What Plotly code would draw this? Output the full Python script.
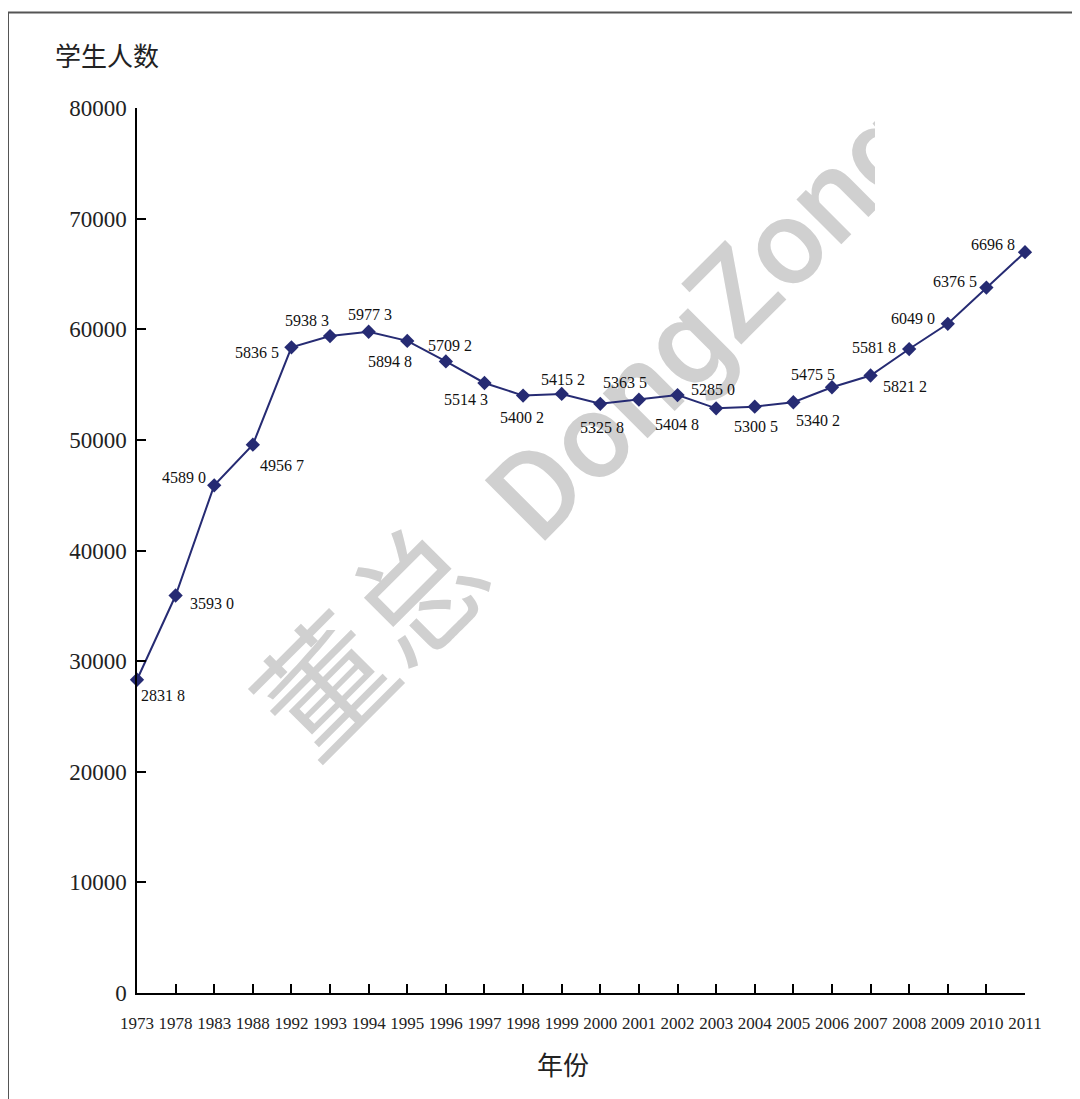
import plotly.graph_objects as go

# ---- data ----
years = ["1973", "1978", "1983", "1988", "1992", "1993", "1994", "1995", "1996", "1997",
         "1998", "1999", "2000", "2001", "2002", "2003", "2004", "2005", "2006", "2007",
         "2008", "2009", "2010", "2011"]
students = [28318, 35930, 45890, 49567, 58365, 59383, 59773, 58948, 57092, 55143,
            54002, 54152, 53258, 53635, 54048, 52850, 53005, 53402, 54755, 55818,
            58212, 60490, 63765, 66968]
point_labels = ["2831 8", "3593 0", "4589 0", "4956 7", "5836 5", "5938 3", "5977 3", "5894 8",
                "5709 2", "5514 3", "5400 2", "5415 2", "5325 8", "5363 5", "5404 8", "5285 0",
                "5300 5", "5340 2", "5475 5", "5581 8", "5821 2", "6049 0", "6376 5", "6696 8"]
y_ticks = [0, 10000, 20000, 30000, 40000, 50000, 60000, 70000, 80000]

# ---- styling ----
NAVY = "#262b73"
SERIF = "Liberation Serif, Times New Roman, serif"
CJK = "Noto Sans CJK SC"
WM_COLOR = "#d0d0d0"
# label offsets (pixels, dx right, dy down) relative to each marker
label_offsets = [(26, 16), (36, 8), (-30, -8), (29, 21), (-34, 5), (-23, -16), (1, -17),
                 (-17, 21), (4, -16), (-18, 17), (-1, 22), (1, -14), (2, 24), (-14, -17),
                 (-1, 29), (-3, -19), (1, 20), (25, 18), (-19, -13), (3, -28), (-4, 37),
                 (-35, -5), (-31, -6), (-32, -8)]

# the page places the figure 8px in from the top-left corner
OFF = 8
W, H = 1080 - OFF, 1099 - OFF
ML, MT = 137 - OFF, 108 - OFF
PW, PH = 888, 885
MR = W - ML - PW
MB = H - MT - PH


def px(xp):
    return (xp - OFF - ML) / PW


def py(yp):
    return (MT + PH - (yp - OFF)) / PH


def wm_line(cx, cy, text, size, weight, family):
    d = 100 * 0.7071
    return dict(type="line", xref="paper", yref="paper",
                x0=px(cx - d), y0=py(cy + d), x1=px(cx + d), y1=py(cy - d),
                line=dict(color="rgba(0,0,0,0)", width=0), layer="below",
                label=dict(text=text, textangle=-45, textposition="middle", yanchor="middle",
                           font=dict(family=family, size=size, color=WM_COLOR, weight=weight)))


fig = go.Figure()
fig.add_trace(go.Scatter(
    x=years, y=students, mode="lines+markers",
    line=dict(color=NAVY, width=2),
    marker=dict(symbol="diamond", size=11, color=NAVY),
    cliponaxis=False, showlegend=False, hoverinfo="x+y",
))

annotations = []
for i, (v, lab, (dx, dy)) in enumerate(zip(students, point_labels, label_offsets)):
    annotations.append(dict(
        x=i, y=v, xref="x", yref="y", text=lab, showarrow=False,
        xshift=dx, yshift=-dy, xanchor="center", yanchor="middle",
        font=dict(family=SERIF, size=16, color="#111111"),
    ))

annotations.append(dict(x=px(107), y=py(55), xref="paper", yref="paper", text="学生人数",
                        showarrow=False, xanchor="center", yanchor="middle",
                        font=dict(family=CJK, size=26, color="#222222")))
annotations.append(dict(x=px(563), y=py(1063), xref="paper", yref="paper", text="年份",
                        showarrow=False, xanchor="center", yanchor="middle",
                        font=dict(family=CJK, size=26, color="#222222")))

shapes = [
    # watermark (drawn beneath the data)
    wm_line(380, 648, "董总", 130, 400, CJK),
    wm_line(700, 315, "DongZong", 120, 500, "Roboto, Liberation Sans, sans-serif"),
    # white mask that clips the watermark on the right
    dict(type="rect", xref="paper", yref="paper",
         x0=px(875), x1=px(1090), y0=py(990), y1=py(0),
         fillcolor="white", line=dict(width=0), layer="below"),
    # frame lines (top and left)
    dict(type="line", xref="paper", yref="paper", x0=px(8), y0=py(12.5), x1=px(1090), y1=py(12.5),
         line=dict(color="#555555", width=2), layer="above"),
    dict(type="line", xref="paper", yref="paper", x0=px(8), y0=py(12.5), x1=px(8), y1=py(1110),
         line=dict(color="#555555", width=2), layer="above"),
]

fig.update_layout(
    width=W, height=H, autosize=False,
    margin=dict(l=ML, r=MR, t=MT, b=MB, pad=0),
    paper_bgcolor="white", plot_bgcolor="rgba(0,0,0,0)",
    showlegend=False,
    annotations=annotations, shapes=shapes,
    xaxis=dict(type="category", range=[0, len(years) - 1], showline=True, linecolor="black",
               linewidth=1.5, ticks="inside", ticklen=9, tickwidth=1.5, tickcolor="black",
               tickfont=dict(family=SERIF, size=17, color="#222222"), showgrid=False,
               zeroline=False, ticklabelstandoff=14),
    yaxis=dict(range=[0, 80000], tickvals=y_ticks, ticktext=[str(t) for t in y_ticks],
               showline=True, linecolor="black", linewidth=1.5, ticks="inside", ticklen=9,
               tickwidth=1.5, tickcolor="black",
               tickfont=dict(family=SERIF, size=23, color="#222222"), showgrid=False,
               zeroline=False, ticklabelstandoff=4),
)

fig.write_html("out.html")
